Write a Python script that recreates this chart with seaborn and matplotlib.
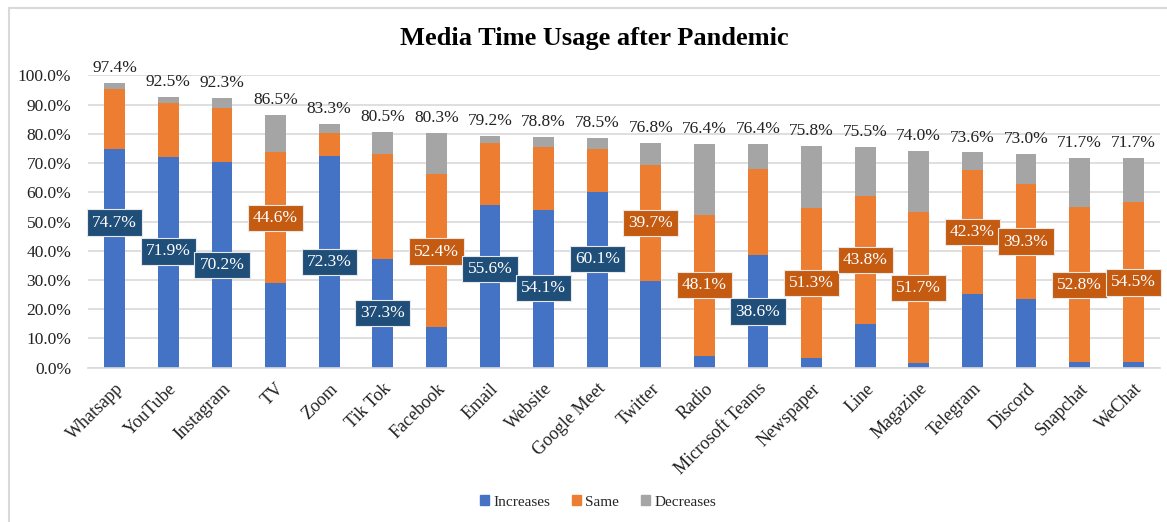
import matplotlib
matplotlib.use('Agg')
import matplotlib.pyplot as plt
import matplotlib.patches as mpatches
import seaborn as sns
from matplotlib.ticker import FuncFormatter

# Data (shares of respondents, in %)
apps = ['Whatsapp', 'YouTube', 'Instagram', 'TV', 'Zoom', 'Tik Tok', 'Facebook',
        'Email', 'Website', 'Google Meet', 'Twitter', 'Radio', 'Microsoft Teams',
        'Newspaper', 'Line', 'Magazine', 'Telegram', 'Discord', 'Snapchat', 'WeChat']
increases = [74.7, 71.9, 70.2, 29.0, 72.3, 37.3, 13.9, 55.6, 54.1, 60.1,
             29.6, 4.0, 38.6, 3.4, 14.9, 1.5, 25.3, 23.4, 2.1, 2.1]
same = [20.6, 18.6, 18.5, 44.6, 8.0, 35.8, 52.4, 21.2, 21.3, 14.8,
        39.7, 48.1, 29.5, 51.3, 43.8, 51.7, 42.3, 39.3, 52.8, 54.5]
decreases = [2.1, 2.0, 3.6, 12.9, 3.0, 7.4, 14.0, 2.4, 3.4, 3.6,
             7.5, 24.3, 8.3, 21.1, 16.8, 20.8, 6.0, 10.3, 16.8, 15.1]
totals = [97.4, 92.5, 92.3, 86.5, 83.3, 80.5, 80.3, 79.2, 78.8, 78.5,
          76.8, 76.4, 76.4, 75.8, 75.5, 74.0, 73.6, 73.0, 71.7, 71.7]

# where the boxed labels sit (chart author moved them by hand)
label_y = [49.6, 39.8, 35.1, 51.2, 36.1, 18.8, 39.7, 33.8, 27.3, 37.2,
           49.4, 28.2, 19.2, 28.9, 36.8, 27.2, 46.5, 43.1, 28.3, 29.2]

c_inc, c_same, c_dec = '#4472C4', '#ED7D31', '#A5A5A5'
c_inc_box, c_same_box = '#1F4E79', '#C55A11'

sns.set_theme(style='white')
plt.rcParams['font.family'] = ['Liberation Serif', 'DejaVu Serif']

fig = plt.figure(figsize=(11.67, 5.22), dpi=100)
ax = fig.add_axes([88 / 1167, 1 - 367.7 / 522, (1160 - 88) / 1167, (367.7 - 75.3) / 522])

inc = [v / 100 for v in increases]
sam = [v / 100 for v in same]
dec = [v / 100 for v in decreases]
bottom_dec = [a + b for a, b in zip(inc, sam)]

sns.barplot(x=apps, y=inc, color=c_inc, width=0.39, errorbar=None, ax=ax, saturation=1, linewidth=0)
sns.barplot(x=apps, y=sam, bottom=inc, color=c_same, width=0.39, errorbar=None, ax=ax, saturation=1, linewidth=0)
sns.barplot(x=apps, y=dec, bottom=bottom_dec, color=c_dec, width=0.39, errorbar=None, ax=ax, saturation=1, linewidth=0)

ax.set_xlim(-0.5, len(apps) - 0.5)
ax.set_ylim(0, 1.0)
ax.set_yticks([i / 10 for i in range(11)])
ax.yaxis.set_major_formatter(FuncFormatter(lambda v, p: f'{v * 100:.1f}%'))
ax.grid(axis='y', color='#D9D9D9', linewidth=1.2)
ax.set_axisbelow(True)
for s in ['top', 'right', 'left']:
    ax.spines[s].set_visible(False)
ax.spines['bottom'].set_color('#D9D9D9')
ax.spines['bottom'].set_linewidth(1.2)
ax.tick_params(axis='y', length=0, pad=12, labelsize=12.5, labelcolor='#222222')
ax.tick_params(axis='x', length=0, pad=9, labelsize=13, labelcolor='#222222')
plt.setp(ax.get_xticklabels(), rotation=45, ha='right', va='top', rotation_mode='anchor')
ax.set_xlabel('')
ax.set_ylabel('')

# totals above each bar
for i, t in enumerate(totals):
    ax.annotate(f'{t:.1f}%', (i, t / 100), xytext=(0, 5), textcoords='offset points',
                ha='center', va='bottom', fontsize=12.5, color='#222222', annotation_clip=False)

# boxed label for the larger of increases / same
for i in range(len(apps)):
    if increases[i] >= same[i]:
        val, fc = increases[i], c_inc_box
    else:
        val, fc = same[i], c_same_box
    ax.text(i, label_y[i] / 100, f'{val:.1f}%', ha='center', va='center', fontsize=12.5,
            color='white', bbox=dict(boxstyle='square,pad=0.3', fc=fc, ec='#E8E8E8', lw=0.8))

fig.text(594 / 1167, 1 - 38 / 522, 'Media Time Usage after Pandemic', ha='center', va='center',
         fontsize=19, fontweight='bold', color='black')

handles = [mpatches.Patch(color=c_inc, label='Increases'),
           mpatches.Patch(color=c_same, label='Same'),
           mpatches.Patch(color=c_dec, label='Decreases')]
fig.legend(handles=handles, loc='center', bbox_to_anchor=(598 / 1167, 1 - 502 / 522), ncol=3,
           frameon=False, fontsize=11, handlelength=0.6, handleheight=0.6, handletextpad=0.3,
           columnspacing=1.4)

# chart frame
fig.patches.append(mpatches.Rectangle((8.5 / 1167, -0.05), 1.2, 1.05 - 7.5 / 522, transform=fig.transFigure,
                                      fill=False, ec='#D9D9D9', lw=1.5))

fig.savefig('out.png', dpi=100)
